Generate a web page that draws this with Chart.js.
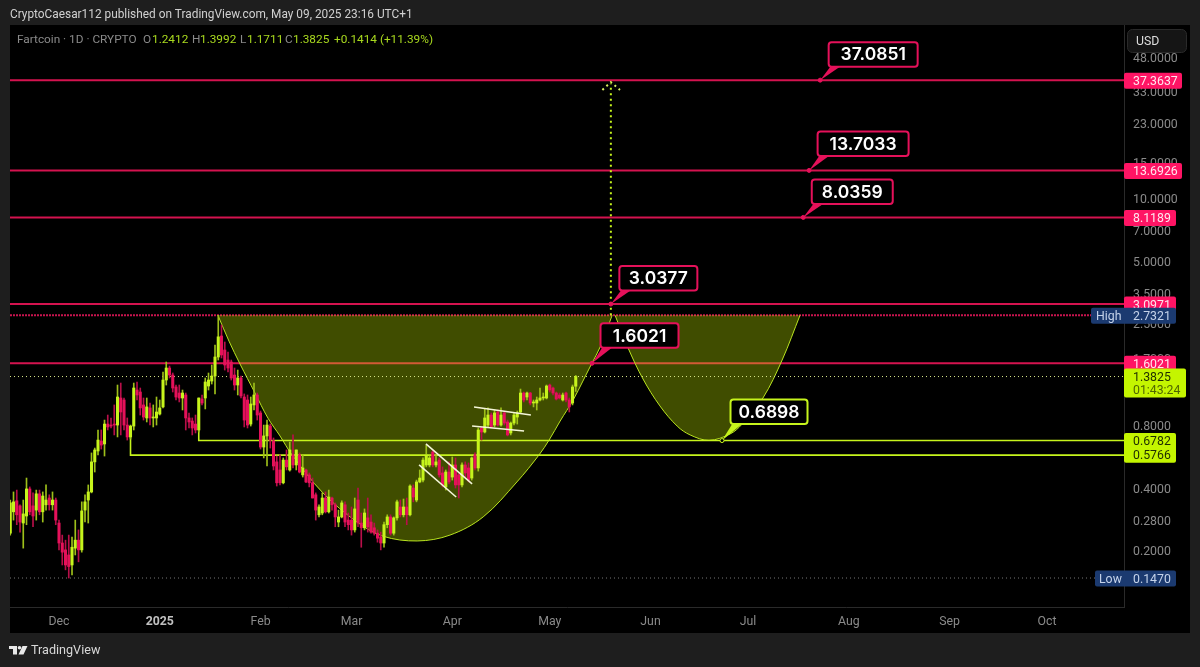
<!DOCTYPE html>
<html>
<head>
<meta charset="utf-8">
<title>Fartcoin 1D</title>
<script src="https://cdn.jsdelivr.net/npm/chart.js@4/dist/chart.umd.min.js"></script>
<style>
  html, body { margin: 0; padding: 0; background: #1e1e1e; }
  canvas { display: block; }
</style>
</head>
<body>
<canvas id="grafico" width="1200" height="667"></canvas>
<script>
// days are counted from Dec 1 2024, prices in USD
const firstCandleDay = -15;

const openPrices = [
  .242,.307,.347,.328,.271,.293,.396,.328,.313,.375,
  .307,.332,.358,.332,.350,.271,.217,.201,.190,.170,
  .205,.224,.201,.313,.350,.383,.535,.604,.675,.653,
  .815,.806,.815,.806,1.089,1.065,.806,.706,.797,1.190,
  1.164,1.008,.872,.975,.872,.872,.911,.986,1.330,1.520,
  1.406,1.231,1.151,1.089,1.126,.872,.843,.815,.763,1.077,
  1.089,1.244,1.315,1.391,1.718,2.17,1.857,1.661,1.625,1.406,
  1.258,1.360,1.101,1.065,.815,1.008,1.126,.922,.631,.714,
  .797,.675,.535,.489,.424,.546,.489,.578,.517,.578,
  .463,.489,.463,.424,.371,.297,.303,.358,.307,.358,
  .332,.274,.290,.332,.280,.280,.251,.350,.271,.257,
  .287,.274,.257,.242,.232,.217,.266,.290,.242,.287,
  .324,.297,.324,.297,.400,.350,.428,.437,.517,.517,
  .597,.517,.546,.473,.405,.478,.452,.517,.463,.414,
  .517,.500,.447,.578,.500,.780,.746,.806,.901,.806,
  .932,.806,.922,.834,.738,.824,.881,.932,1.151,1.101,
  1.151,1.030,1.030,1.065,1.089,1.089,1.258,1.217,1.151,1.126,
  1.065,1.151,1.065,1.030,1.2412
];
const highPrices = [
  .350,.383,.391,.332,.350,.447,.405,.379,.391,.391,
  .383,.414,.371,.383,.358,.280,.237,.224,.237,.232,
  .280,.251,.343,.371,.414,.591,.624,.763,.763,.852,
  .901,.872,1.008,1.258,1.286,1.089,.872,.806,1.286,1.301,
  1.217,1.089,1.089,1.030,1.008,1.101,1.065,1.454,1.625,1.554,
  1.438,1.258,1.258,1.190,1.151,.922,.872,.901,1.089,1.126,
  1.360,1.438,1.572,1.96,2.732,2.45,2.03,1.816,1.661,1.520,
  1.486,1.391,1.139,1.126,1.101,1.286,1.151,.942,.806,.852,
  .815,.698,.571,.578,.559,.611,.667,.722,.611,.591,
  .578,.494,.473,.447,.379,.332,.379,.383,.391,.362,
  .339,.313,.347,.343,.303,.324,.358,.400,.303,.317,
  .358,.297,.271,.251,.245,.274,.297,.297,.290,.350,
  .350,.354,.358,.414,.414,.437,.489,.559,.645,.571,
  .611,.578,.559,.506,.489,.535,.565,.559,.473,.529,
  .535,.529,.565,.591,.780,.789,.964,.975,.922,.953,
  .953,.975,.932,.852,.834,.922,.942,1.203,1.164,1.164,
  1.160,1.065,1.101,1.217,1.151,1.258,1.272,1.231,1.164,1.151,
  1.151,1.164,1.089,1.258,1.3992
];
const lowPrices = [
  .237,.280,.266,.245,.205,.266,.297,.260,.280,.297,
  .274,.313,.313,.313,.266,.201,.170,.161,.147,.152,
  .190,.176,.196,.274,.271,.379,.478,.578,.617,.571,
  .763,.780,.722,.706,.722,.763,.682,.690,.763,1.065,
  .901,.852,.834,.806,.789,.806,.901,.975,1.258,1.360,
  1.164,1.065,1.042,.953,.763,.780,.722,.738,.746,1.008,
  .964,1.190,1.272,1.139,1.661,1.699,1.486,1.454,1.330,1.190,
  1.126,1.089,.789,.780,.797,.953,.852,.617,.559,.511,
  .624,.489,.409,.414,.419,.489,.483,.500,.489,.473,
  .452,.424,.405,.358,.280,.290,.297,.303,.303,.313,
  .260,.260,.287,.260,.251,.237,.245,.260,.207,.251,
  .245,.242,.237,.219,.201,.207,.257,.237,.237,.280,
  .290,.290,.266,.293,.343,.343,.424,.428,.506,.506,
  .506,.506,.452,.405,.391,.419,.437,.400,.358,.405,
  .452,.428,.437,.489,.483,.682,.738,.789,.780,.789,
  .797,.797,.806,.714,.722,.806,.815,.922,1.042,1.065,
  1.008,.986,.953,1.053,1.065,1.077,1.164,1.126,1.065,1.077,
  1.053,1.042,.932,1.008,1.1711
];
const closePrices = [
  .339,.343,.297,.274,.300,.396,.307,.293,.375,.307,
  .366,.350,.332,.350,.280,.217,.196,.170,.167,.207,
  .224,.201,.310,.343,.383,.535,.611,.682,.645,.815,
  .789,.797,.806,1.101,.932,.806,.706,.797,1.217,1.126,
  .975,.881,.986,.872,.881,.932,.975,1.330,1.520,1.406,
  1.217,1.101,1.089,1.151,.872,.834,.780,.763,1.089,1.030,
  1.301,1.330,1.391,1.718,2.15,1.757,1.572,1.520,1.360,1.258,
  1.360,1.114,.852,.806,1.019,1.126,.901,.631,.714,.806,
  .682,.511,.424,.424,.546,.506,.611,.517,.611,.478,
  .500,.428,.424,.358,.313,.324,.358,.307,.362,.332,
  .290,.290,.339,.274,.266,.251,.317,.271,.257,.303,
  .260,.245,.242,.229,.217,.266,.290,.242,.287,.343,
  .297,.324,.297,.409,.362,.428,.447,.546,.578,.559,
  .517,.535,.463,.414,.478,.428,.517,.414,.414,.517,
  .473,.437,.559,.500,.763,.746,.872,.901,.789,.922,
  .806,.901,.824,.722,.824,.901,.922,1.151,1.065,1.151,
  1.030,1.042,1.065,1.089,1.101,1.244,1.190,1.151,1.077,1.089,
  1.126,1.065,.986,1.231,1.3825
];

const redLevels = [37.3637, 13.6926, 8.1189, 3.0971, 1.6021];
const highPrice = 2.7321;
const lowPrice = 0.1470;
const lastPrice = 1.3825;
const countdown = "01:43:24";
const limeLevels = [0.6782, 0.5766];
const limeLevelStartDays = [43, 22];
const limeLevelStartPrices = [1.089, 0.706];

const cupDays = [48.9, 52.3, 55.7, 60.3, 64.3, 68, 71.7, 81.2, 91.7, 99.7, 110.2, 120.3, 130.5, 140.9, 147.7, 150.8, 154.2, 158.2, 161.2, 164, 166.5, 170.2];
const cupPrices = [2.7321, 2.05, 1.589, 1.151, .87, .714, .578, .379, .274, .234, .222, .237, .290, .428, .578, .682, .843, 1.065, 1.315, 1.607, 1.92, 2.7321];
const handleDays = [171.1, 175.1, 179.7, 184.9, 190.2, 194.2, 200, 206.5, 210.2, 216.6, 222.5, 228];
const handlePrices = [2.7321, 1.90, 1.345, .997, .797, .722, .68, .730, .815, 1.089, 1.661, 2.7321];

// white flag channels: start day, end day, start price, end price
const flagStartDays = [112.9, 110.8, 127.7, 127.1];
const flagEndDays = [127.1, 122.2, 145.2, 143.1];
const flagStartPrices = [.653, .517, .986, .797];
const flagEndPrices = [.419, .362, .901, .754];

const targetLineDays = [169.8, 169.8];
const targetLinePrices = [2.7321, 36.0];
const arrowDays = [167.2, 169.8, 172.6];
const arrowPrices = [33.5, 36.6, 33.5];

const calloutLabels = ["37.0851", "13.7033", "8.0359", "3.0377", "1.6021", "0.6898"];
const calloutDays = [234.2, 230.8, 229, 169.8, 164, 204];
const calloutPrices = [37.3637, 13.6926, 8.1189, 3.0971, 1.6021, 0.6782];

const xTickDays = [0, 31, 62, 90, 121, 151, 182, 212, 243, 274, 304];
const xTickLabels = ["Dec", "2025", "Feb", "Mar", "Apr", "May", "Jun", "Jul", "Aug", "Sep", "Oct"];
const yTickPrices = [48, 33, 23, 15, 10, 7, 5, 3.5, 2.5, 1.7, 0.8, 0.4, 0.28, 0.2];

const LIME = "#c6f41c";
const RED = "#e5115a";
const FONT = "Roboto, 'Liberation Sans', sans-serif";
const CALLOUT_FONT = "600 17.5px Inter, sans-serif";
const calloutBoxWidths = [89, 91, 81, 78, 78, 77];
const calloutRaise = [38, 39, 38, 38, 40, 41];

const candleDays = openPrices.map((_, i) => firstCandleDay + i);
const candleColors = openPrices.map((o, i) => closePrices[i] >= o ? LIME : RED);
const wickColors = openPrices.map((o, i) => closePrices[i] >= o ? "#9dbf1a" : "#b80f49");

function zip(xs, ys) {
  return xs.map((x, i) => ({ x, y: ys[i] }));
}

const X_MIN = -15.08, X_MAX = 327.69;

function lineSet(data, color, width, order, extra) {
  return Object.assign({
    type: "line", data, borderColor: color, borderWidth: width,
    pointRadius: 0, fill: false, tension: 0, order
  }, extra || {});
}

const datasets = [
  {
    type: "bar", data: candleDays.map((d, i) => ({ x: d, y: [openPrices[i], closePrices[i]] })),
    backgroundColor: candleColors, barThickness: 2.4, minBarLength: 1, grouped: false, order: 2
  },
  {
    type: "bar", data: candleDays.map((d, i) => ({ x: d, y: [lowPrices[i], highPrices[i]] })),
    backgroundColor: wickColors, barThickness: 1, grouped: false, order: 3
  }
];

redLevels.forEach(p => {
  datasets.push(lineSet([{ x: X_MIN, y: p }, { x: X_MAX, y: p }], "#d4134f", 2, 10));
});
datasets.push(lineSet([{ x: X_MIN, y: highPrice }, { x: X_MAX, y: highPrice }], "#c9144f", 2, 10, { borderDash: [2, 1] }));
datasets.push(lineSet([{ x: X_MIN, y: lastPrice }, { x: X_MAX, y: lastPrice }], "#d8e88a", 1, 4, { borderDash: [1, 3] }));
datasets.push(lineSet([{ x: X_MIN, y: lowPrice }, { x: X_MAX, y: lowPrice }], "#777777", 1, 4, { borderDash: [1, 3] }));

// cup and handle, fill goes over the red lines
[[cupDays, cupPrices], [handleDays, handlePrices]].forEach(([xs, ys]) => {
  datasets.push(lineSet(zip(xs, ys), "#b9e41f", 1, 5, {
    tension: 0.35,
    fill: { value: highPrice },
    backgroundColor: "rgba(205,250,0,0.31)"
  }));
});

limeLevels.forEach((p, i) => {
  datasets.push(lineSet([
    { x: limeLevelStartDays[i], y: limeLevelStartPrices[i] },
    { x: limeLevelStartDays[i], y: p },
    { x: X_MAX, y: p }
  ], LIME, 1.6, 4));
});

flagStartDays.forEach((d, i) => {
  datasets.push(lineSet([
    { x: d, y: flagStartPrices[i] },
    { x: flagEndDays[i], y: flagEndPrices[i] }
  ], "#f4f6d8", 1.6, 0));
});

datasets.push(lineSet(zip(targetLineDays, targetLinePrices), LIME, 2, 0, { borderDash: [2, 3.5] }));
datasets.push(lineSet(zip(arrowDays, arrowPrices), "#d8f060", 2, 0, { borderDash: [2, 3.5] }));

function roundBox(ctx, x, y, w, h, r, fill, stroke, lw) {
  ctx.beginPath();
  ctx.roundRect(x, y, w, h, r);
  if (fill) { ctx.fillStyle = fill; ctx.fill(); }
  if (stroke) { ctx.strokeStyle = stroke; ctx.lineWidth = lw; ctx.stroke(); }
}

function label(ctx, text, x, y, color, font) {
  ctx.font = font;
  ctx.fillStyle = color;
  ctx.textBaseline = "middle";
  ctx.textAlign = "left";
  ctx.fillText(text, x, y);
}

const backgroundPanel = {
  id: "backgroundPanel",
  beforeDraw(chart) {
    const { ctx } = chart;
    ctx.save();
    ctx.fillStyle = "#1e1e1e";
    ctx.fillRect(0, 0, 1200, 667);
    ctx.fillStyle = "#000000";
    ctx.fillRect(10, 25, 1180, 608);
    ctx.restore();
  }
};

const overlay = {
  id: "overlay",
  afterDraw(chart) {
    const { ctx } = chart;
    const yS = chart.scales.y, xS = chart.scales.x;
    const small = "12.3px " + FONT;
    ctx.save();

    // page header and footer
    label(ctx, "CryptoCaesar112 published on TradingView.com, May 09, 2025 23:16 UTC+1", 10, 15, "#d0d0d0", "11.85px " + FONT);
    const grey = "#8a8a8a", val = "#a8d81e", hf = "11.8px " + FONT;
    label(ctx, "Fartcoin · 1D · CRYPTO", 17, 40, grey, hf);
    label(ctx, "O", 143, 40, grey, hf); label(ctx, "1.2412", 152, 40, val, hf);
    label(ctx, "H", 192, 40, grey, hf); label(ctx, "1.3992", 200, 40, val, hf);
    label(ctx, "L", 240, 40, grey, hf); label(ctx, "1.1711", 247, 40, val, hf);
    label(ctx, "C", 285, 40, grey, hf); label(ctx, "1.3825", 293, 40, val, hf);
    label(ctx, "+0.1414 (+11.39%)", 334, 40, val, hf);

    ctx.fillStyle = "#e8e8e8";
    ctx.fillRect(9, 646, 8, 3);
    ctx.fillRect(13, 649, 4, 5.5);
    ctx.beginPath(); ctx.arc(19.5, 647.8, 1.8, 0, Math.PI * 2); ctx.fill();
    ctx.beginPath(); ctx.moveTo(22.5, 646); ctx.lineTo(27.5, 646); ctx.lineTo(23.5, 654.5); ctx.lineTo(18.5, 654.5); ctx.closePath(); ctx.fill();
    label(ctx, "TradingView", 31, 651, "#d8d8d8", "12.6px " + FONT);

    // y ticks come from the scale, written here so they sit left aligned behind the tags
    yS.ticks.forEach(t => {
      label(ctx, t.label, 1133, yS.getPixelForValue(t.value) + 1.5, "#8a8a8a", small);
    });

    // USD button
    roundBox(ctx, 1127.5, 29.5, 59, 23, 5, "#151515", "#2a2a2a", 1);
    label(ctx, "USD", 1136, 41.5, "#dddddd", "12.3px " + FONT);

    // price tags on the axis
    redLevels.forEach((p, i) => {
      const y = yS.getPixelForValue(p);
      const w = p >= 10 ? 58 : 52;
      roundBox(ctx, 1124, y - 7.5, w, 16, 2, "#ff1464");
      label(ctx, p.toFixed(4), 1133, y + 1.5, "#ffe6ee", small);
    });

    const hy = yS.getPixelForValue(highPrice);
    roundBox(ctx, 1091, hy - 7.5, 85, 16, 2, "#1b3a70");
    label(ctx, "High", 1096, hy + 1.5, "#c5d3ea", small);
    label(ctx, highPrice.toFixed(4), 1133, hy + 1.5, "#c5d3ea", small);

    const ly = yS.getPixelForValue(lastPrice);
    roundBox(ctx, 1124, ly - 8, 62, 29, 2, "#c4f500");
    label(ctx, lastPrice.toFixed(4), 1133, ly + 1, "#1f2c00", small);
    label(ctx, countdown, 1133, ly + 14, "#4f6600", small);

    const g1 = yS.getPixelForValue(limeLevels[0]), g2 = yS.getPixelForValue(limeLevels[1]);
    roundBox(ctx, 1124, g1 - 7.5, 52, g2 - g1 + 15, 2, "#c4f500");
    label(ctx, limeLevels[0].toFixed(4), 1133, g1 + 1, "#1f2c00", small);
    label(ctx, limeLevels[1].toFixed(4), 1133, g2 + 1, "#1f2c00", small);

    const lo = yS.getPixelForValue(lowPrice);
    roundBox(ctx, 1095, lo - 7.5, 81, 16, 2, "#1b3a70");
    label(ctx, "Low", 1099, lo + 1.5, "#c5d3ea", small);
    label(ctx, lowPrice.toFixed(4), 1133, lo + 1.5, "#c5d3ea", small);

    // callouts with pointer
    calloutLabels.forEach((text, i) => {
      const ax = xS.getPixelForValue(calloutDays[i]);
      const ay = yS.getPixelForValue(calloutPrices[i]);
      const color = i === 5 ? LIME : RED;
      const w = calloutBoxWidths[i];
      const bx = ax + 8.5, by = ay - calloutRaise[i];
      ctx.beginPath();
      ctx.moveTo(ax, ay);
      ctx.lineTo(bx + 2, by + 24);
      ctx.lineTo(bx + 12, by + 24);
      ctx.closePath();
      ctx.fillStyle = color;
      ctx.fill();
      roundBox(ctx, bx, by, w, 24.5, 3, "#000000", color, 2);
      ctx.font = CALLOUT_FONT;
      const tw = ctx.measureText(text).width;
      label(ctx, text, bx + (w - tw) / 2, by + 13, "#ffffff", CALLOUT_FONT);
      ctx.beginPath();
      ctx.arc(ax, ay, 2, 0, Math.PI * 2);
      ctx.fillStyle = i === 5 ? "#000000" : RED;
      ctx.fill();
      ctx.lineWidth = 1;
      ctx.strokeStyle = color;
      ctx.stroke();
    });

    ctx.restore();
  }
};

const isYearTick = ctx => ctx.tick && ctx.tick.value === 31;

new Chart(document.getElementById("grafico"), {
  type: "bar",
  data: { datasets },
  plugins: [backgroundPanel, overlay],
  options: {
    responsive: false,
    animation: false,
    layout: { padding: { left: 10, top: 25, right: 0, bottom: 33 } },
    plugins: { legend: { display: false }, tooltip: { enabled: false } },
    scales: {
      x: {
        type: "linear",
        offset: false,
        min: X_MIN,
        max: X_MAX,
        grid: { display: false },
        border: { color: "#2a2a2a" },
        afterBuildTicks: scale => { scale.ticks = xTickDays.map(value => ({ value })); },
        afterFit: scale => { scale.height = 27; },
        ticks: {
          autoSkip: false,
          maxRotation: 0,
          padding: 0,
          color: ctx => isYearTick(ctx) ? "#c0c0c0" : "#8a8a8a",
          font: ctx => ({ family: FONT, size: 12.3, weight: isYearTick(ctx) ? "700" : "400" }),
          callback: value => xTickLabels[xTickDays.indexOf(value)]
        }
      },
      y: {
        type: "logarithmic",
        position: "right",
        min: 0.1065,
        max: 69,
        grid: { display: false },
        border: { color: "#2a2a2a" },
        afterBuildTicks: scale => { scale.ticks = yTickPrices.map(value => ({ value })); },
        afterFit: scale => { scale.width = 76; },
        ticks: {
          display: false,
          autoSkip: false,
          callback: value => value.toFixed(4)
        }
      }
    }
  }
});
</script>
</body>
</html>
